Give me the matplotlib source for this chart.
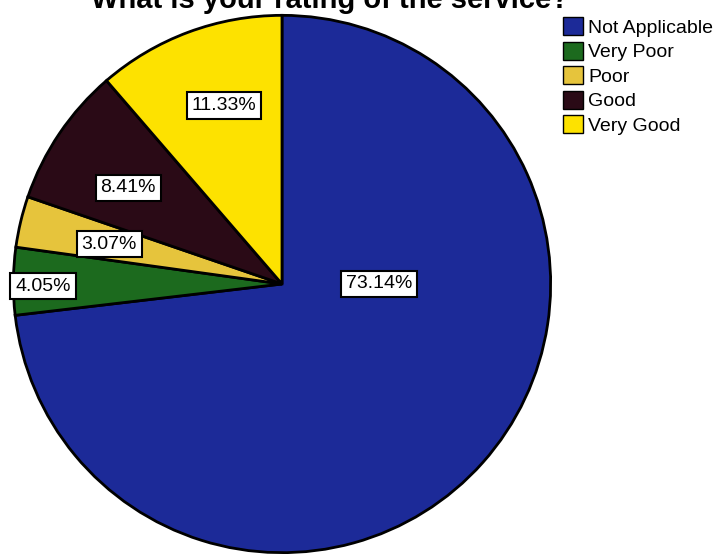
import numpy as np
import matplotlib
matplotlib.use("Agg")
import matplotlib.pyplot as plt
from matplotlib.patches import Patch

# values
categories = ["Not Applicable", "Very Poor", "Poor", "Good", "Very Good"]
percents = [73.14, 4.05, 3.07, 8.41, 11.33]
colors = ["#1c2a98", "#1c6a1e", "#e6c43c", "#2a0a16", "#fde200"]

# label placement (radius, angle in degrees), as SPSS put them
label_r = [0.36, 0.89, 0.66, 0.675, 0.70]
label_ang = [0.0, 180.5, 167.0, 148.0, 108.0]

plt.rcParams['font.family'] = ['Liberation Sans', 'DejaVu Sans']

W, H = 721, 554
fig = plt.figure(figsize=(W / 100, H / 100), dpi=100)
fig.patch.set_facecolor("white")

# pie axes: circle spans x 12..552, y 14..554 (pixels from top)
ax = fig.add_axes([12 / W, 0 / H, 540 / W, 540 / H])
ax.pie(percents, colors=colors, startangle=90, counterclock=False,
       radius=1.0, wedgeprops=dict(edgecolor="black", linewidth=2))
ax.set_xlim(-1.005, 1.005)
ax.set_ylim(-1.005, 1.005)
ax.set_aspect("equal")
ax.axis("off")

for p, r, a in zip(percents, label_r, label_ang):
    t = np.deg2rad(a)
    ax.text(r * np.cos(t), r * np.sin(t), f"{p:.2f}%", ha="center", va="center",
            fontsize=14, color="black",
            bbox=dict(boxstyle="square,pad=0.25", facecolor="white",
                      edgecolor="black", linewidth=1.5))

# title, mostly cropped off the top of the picture
fig.text(330 / W, 1 - 8 / H, "What is your rating of the service?",
         ha="center", va="baseline", fontsize=21, fontweight="bold")

handles = [Patch(facecolor=c, edgecolor="black", linewidth=1) for c in colors]
fig.legend(handles, categories, loc="upper left", bbox_to_anchor=(563 / W, 1 - 17 / H),
           frameon=False, fontsize=14, handlelength=1.05, handleheight=1.05,
           handletextpad=0.25, labelspacing=0.25, borderpad=0, borderaxespad=0)

fig.savefig("out.png", dpi=100)
